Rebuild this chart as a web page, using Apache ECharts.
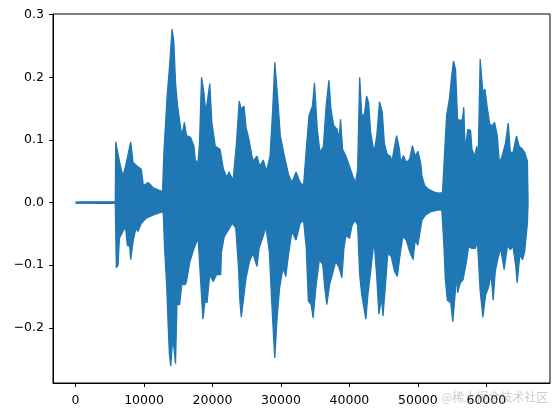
<!DOCTYPE html>
<html>
<head>
<meta charset="utf-8">
<script src="https://cdn.jsdelivr.net/npm/echarts@6/dist/echarts.min.js"></script>
<style>
html,body{margin:0;padding:0;background:#fff;}
#chart{width:559px;height:417px;}
</style>
</head>
<body>
<div id="chart"></div>
<script>
// Upper envelope of the waveform (sample index, amplitude)
const upperX = [0, 1000, 2000, 3000, 4000, 5000, 5800, 5860, 6100, 6400, 6900, 7300, 8050, 8400, 9000, 9600, 9900, 10600, 11300, 12300, 12700, 12900, 13400, 13700, 14100, 14350, 14600, 14900, 15500, 15900, 16200, 16800, 17300, 17500, 17900, 18100, 18400, 18750, 19000, 19300, 19600, 19900, 20400, 21100, 21600, 22100, 22400, 23000, 23500, 23900, 24200, 24600, 24900, 25300, 25900, 26500, 26900, 27400, 27900, 28400, 28800, 29100, 29500, 29900, 30500, 31100, 31600, 32200, 32800, 33300, 33700, 34100, 34600, 34900, 35300, 35700, 36200, 36600, 37000, 37300, 37700, 38200, 38500, 38700, 39000, 39500, 40000, 40500, 40900, 41200, 41500, 41800, 42200, 42500, 42800, 43100, 43600, 44000, 44400, 44800, 45100, 45500, 46000, 46200, 46600, 46900, 47300, 47500, 47900, 48300, 48800, 49200, 49600, 50000, 50400, 50600, 51000, 51600, 52300, 53000, 53600, 53900, 54200, 54600, 54900, 55200, 55500, 55800, 56200, 56500, 56700, 56900, 57300, 57700, 57900, 58300, 58600, 58800, 59100, 59500, 59800, 60100, 60500, 60900, 61200, 61600, 61900, 62300, 62800, 63200, 63500, 63900, 64400, 64800, 65300, 65600, 66000, 66100];
const upperY = [0.0008, 0.0010, 0.0012, 0.0009, 0.0011, 0.0010, 0.0012, 0.097, 0.097, 0.066, 0.042, 0.058, 0.097, 0.064, 0.058, 0.053, 0.027, 0.032, 0.024, 0.019, 0.018, 0.080, 0.175, 0.213, 0.277, 0.256, 0.191, 0.154, 0.107, 0.128, 0.107, 0.104, 0.090, 0.066, 0.066, 0.095, 0.200, 0.175, 0.144, 0.165, 0.190, 0.128, 0.090, 0.085, 0.053, 0.040, 0.049, 0.035, 0.095, 0.162, 0.149, 0.154, 0.120, 0.102, 0.066, 0.074, 0.058, 0.068, 0.050, 0.074, 0.149, 0.224, 0.170, 0.107, 0.074, 0.045, 0.032, 0.049, 0.032, 0.027, 0.085, 0.139, 0.154, 0.191, 0.117, 0.080, 0.090, 0.154, 0.195, 0.149, 0.123, 0.117, 0.102, 0.133, 0.085, 0.074, 0.058, 0.042, 0.032, 0.053, 0.200, 0.139, 0.141, 0.170, 0.160, 0.112, 0.080, 0.107, 0.161, 0.144, 0.095, 0.077, 0.074, 0.064, 0.090, 0.107, 0.085, 0.064, 0.075, 0.064, 0.069, 0.091, 0.074, 0.082, 0.064, 0.042, 0.027, 0.021, 0.017, 0.015, 0.016, 0.080, 0.139, 0.165, 0.198, 0.226, 0.213, 0.133, 0.131, 0.133, 0.152, 0.085, 0.117, 0.115, 0.085, 0.074, 0.090, 0.066, 0.229, 0.175, 0.181, 0.154, 0.125, 0.123, 0.128, 0.107, 0.064, 0.074, 0.095, 0.127, 0.080, 0.080, 0.106, 0.090, 0.085, 0.080, 0.066, 0.0];

// Lower envelope of the waveform
const lowerX = [0, 1000, 2000, 3000, 4000, 5000, 5800, 5950, 6200, 6400, 6900, 7300, 7550, 7900, 8050, 8400, 8800, 9100, 9600, 10300, 11300, 12300, 12800, 13000, 13300, 13500, 13700, 13900, 14200, 14400, 14600, 14800, 15200, 15500, 16000, 16200, 16700, 17300, 17900, 18300, 18600, 18900, 19200, 19600, 20100, 20600, 21200, 21300, 21700, 22300, 22900, 23400, 23800, 24000, 24200, 24500, 24900, 25400, 25900, 26500, 26800, 27300, 27800, 28300, 28600, 28900, 29100, 29400, 29800, 30300, 30700, 31100, 31600, 32200, 32800, 33300, 33700, 34000, 34400, 34700, 35100, 35600, 36100, 36400, 36700, 37100, 37500, 38000, 38500, 38900, 39200, 39500, 40000, 40400, 40800, 41200, 41500, 41800, 42200, 42400, 42700, 43100, 43600, 44000, 44300, 44700, 44900, 45200, 45600, 46100, 46600, 47000, 47400, 47800, 48300, 48800, 49300, 49600, 50000, 50400, 50600, 51100, 51800, 52800, 53500, 53800, 54000, 54300, 54800, 55100, 55400, 55700, 55800, 56200, 56600, 57100, 57400, 57900, 58400, 58700, 59100, 59500, 59900, 60300, 60700, 61000, 61300, 61700, 62100, 62600, 63100, 63500, 63900, 64300, 64500, 64900, 65300, 65600, 66000, 66100];
const lowerY = [-0.0008, -0.0010, -0.0009, -0.0011, -0.0010, -0.0012, -0.0010, -0.104, -0.100, -0.057, -0.046, -0.039, -0.068, -0.070, -0.091, -0.062, -0.041, -0.046, -0.033, -0.025, -0.020, -0.016, -0.015, -0.073, -0.131, -0.189, -0.242, -0.261, -0.214, -0.214, -0.257, -0.163, -0.163, -0.131, -0.131, -0.126, -0.094, -0.073, -0.057, -0.131, -0.186, -0.157, -0.160, -0.115, -0.126, -0.115, -0.115, -0.080, -0.055, -0.044, -0.033, -0.041, -0.104, -0.157, -0.183, -0.157, -0.120, -0.094, -0.081, -0.102, -0.073, -0.057, -0.039, -0.078, -0.147, -0.210, -0.248, -0.189, -0.136, -0.104, -0.118, -0.083, -0.046, -0.060, -0.033, -0.028, -0.073, -0.157, -0.163, -0.184, -0.136, -0.091, -0.099, -0.136, -0.163, -0.131, -0.115, -0.094, -0.104, -0.120, -0.073, -0.052, -0.057, -0.036, -0.028, -0.036, -0.115, -0.147, -0.173, -0.186, -0.147, -0.110, -0.060, -0.120, -0.178, -0.152, -0.181, -0.141, -0.081, -0.086, -0.110, -0.118, -0.083, -0.054, -0.060, -0.078, -0.091, -0.060, -0.068, -0.041, -0.028, -0.020, -0.015, -0.012, -0.012, -0.068, -0.120, -0.156, -0.160, -0.190, -0.152, -0.110, -0.144, -0.128, -0.123, -0.094, -0.070, -0.073, -0.073, -0.062, -0.141, -0.183, -0.147, -0.136, -0.115, -0.156, -0.110, -0.089, -0.073, -0.107, -0.068, -0.075, -0.070, -0.102, -0.128, -0.083, -0.091, -0.078, -0.033, 0.0];

const xTicks = [0, 10000, 20000, 30000, 40000, 50000, 60000];
const yTicks = [-0.2, -0.1, 0.0, 0.1, 0.2, 0.3];

const color = '#1f77b4';
const font = 'DejaVu Sans';

const upperData = upperX.map((x, i) => [x, upperY[i]]);
const lowerData = lowerX.map((x, i) => [x, lowerY[i]]);

const chart = echarts.init(document.getElementById('chart'), null, {renderer: 'canvas'});
chart.setOption({
  animation: false,
  backgroundColor: '#fff',
  grid: {left: 53, right: 9, top: 14, bottom: 34, show: true, borderColor: '#000', borderWidth: 1, backgroundColor: 'transparent', z: 10},
  xAxis: {
    type: 'value', min: -3300, max: 69300,
    axisLine: {show: true, onZero: false, lineStyle: {color: '#000', width: 1}},
    axisTick: {show: true, customValues: xTicks, length: 4, lineStyle: {color: '#000', width: 1}},
    axisLabel: {customValues: xTicks, color: '#000', fontSize: 12.5, fontFamily: font, margin: 11, formatter: v => String(v)},
    splitLine: {show: false}
  },
  yAxis: {
    type: 'value', min: -0.288, max: 0.301,
    axisLine: {show: true, onZero: false, lineStyle: {color: '#000', width: 1}},
    axisTick: {show: true, customValues: yTicks, length: 4, lineStyle: {color: '#000', width: 1}},
    axisLabel: {customValues: yTicks, color: '#000', fontSize: 12.5, fontFamily: font, margin: 9,
      formatter: v => v.toFixed(1).replace('-', '\u2212')},
    splitLine: {show: false}
  },
  series: [
    {type: 'line', data: upperData, showSymbol: false, symbol: 'none', lineStyle: {color: color, width: 1.3}, areaStyle: {color: color, opacity: 1, origin: -0.0015}, z: 2},
    {type: 'line', data: lowerData, showSymbol: false, symbol: 'none', lineStyle: {color: color, width: 1.3}, areaStyle: {color: color, opacity: 1, origin: 0.0015}, z: 2}
  ],
  graphic: [
    {type: 'text', left: 441, top: 391, z: 100, style: {text: '@稀土掘金技术社区', fill: 'rgba(160,160,160,0.55)', fontSize: 12, fontFamily: 'Noto Sans CJK SC'}}
  ]
});
</script>
</body>
</html>
